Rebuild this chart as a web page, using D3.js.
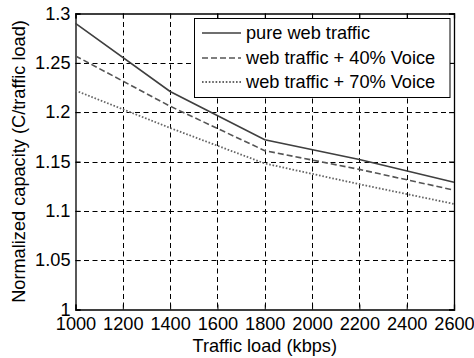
<!DOCTYPE html>
<html>
<head>
<meta charset="utf-8">
<script src="https://cdn.jsdelivr.net/npm/d3@7"></script>
<style>
  html, body { margin: 0; padding: 0; background: #fff; }
  text { font-family: "Liberation Sans", Arial, sans-serif; fill: #000; }
</style>
</head>
<body>
<svg id="chart" width="474" height="358"></svg>
<script>
// Traffic load in kbps
const loads = [1000, 1400, 1800, 2200, 2600];
// Normalized capacity (C / traffic load) for each traffic mix
const pureWeb = [1.290, 1.221, 1.172, 1.152, 1.129];
const web40Voice = [1.257, 1.206, 1.161, 1.142, 1.121];
const web70Voice = [1.222, 1.184, 1.148, 1.127, 1.107];
const seriesNames = ["pure web traffic", "web traffic + 40% Voice", "web traffic + 70% Voice"];
const xTicks = [1000, 1200, 1400, 1600, 1800, 2000, 2200, 2400, 2600];
const yTicks = [1, 1.05, 1.1, 1.15, 1.2, 1.25, 1.3];

const svg = d3.select("#chart");
const plotLeft = 75.5, plotRight = 454, plotTop = 13.5, plotBottom = 309.5;
const fontSize = "18.2px";

const x = d3.scaleLinear().domain([1000, 2600]).range([plotLeft, plotRight]);
const y = d3.scaleLinear().domain([1, 1.3]).range([plotBottom, plotTop]);

// Grid
const grid = svg.append("g");
grid.selectAll(".gx").data(xTicks.slice(1, -1)).enter().append("line")
  .attr("x1", d => Math.round(x(d)) + 0.5).attr("x2", d => Math.round(x(d)) + 0.5)
  .attr("y1", plotTop).attr("y2", plotBottom)
  .attr("stroke", "#000").attr("stroke-width", 1).attr("stroke-dasharray", "5,3.5");
grid.selectAll(".gy").data(yTicks.slice(1, -1)).enter().append("line")
  .attr("y1", d => Math.round(y(d)) + 0.5).attr("y2", d => Math.round(y(d)) + 0.5)
  .attr("x1", plotLeft).attr("x2", plotRight)
  .attr("stroke", "#000").attr("stroke-width", 1).attr("stroke-dasharray", "5,3.5");

// Axes (ticks pointing inward, mirrored on top and right)
const fmtY = d => d3.format("")(d);
const tickLen = 5;
const axB = svg.append("g").attr("transform", `translate(0,${plotBottom})`)
  .call(d3.axisBottom(x).tickValues(xTicks).tickSize(-tickLen).tickPadding(8).tickFormat(d3.format("d")));
const axT = svg.append("g").attr("transform", `translate(0,${plotTop})`)
  .call(d3.axisTop(x).tickValues(xTicks).tickSize(-tickLen).tickFormat(""));
const axL = svg.append("g").attr("transform", `translate(${plotLeft},0)`)
  .call(d3.axisLeft(y).tickValues(yTicks).tickSize(-tickLen).tickPadding(5).tickFormat(fmtY));
const axR = svg.append("g").attr("transform", `translate(${plotRight},0)`)
  .call(d3.axisRight(y).tickValues(yTicks).tickSize(-tickLen).tickFormat(""));
[axB, axT, axL, axR].forEach(a => {
  a.select(".domain").attr("stroke", "#000").attr("stroke-width", 1.3);
  a.selectAll(".tick line").attr("stroke", "#000");
  a.selectAll("text").style("font-size", fontSize).attr("fill", "#000")
    .style("font-family", "'Liberation Sans', Arial, sans-serif");
});

// Series
const series = [
  { name: seriesNames[0], values: pureWeb, color: "#3f3f3f", dash: null, width: 1.6 },
  { name: seriesNames[1], values: web40Voice, color: "#555", dash: "6,3", width: 1.6 },
  { name: seriesNames[2], values: web70Voice, color: "#666", dash: "1.6,1.8", width: 1.8 }
];
const line = d3.line().x((d, i) => x(loads[i])).y(d => y(d));
series.forEach(s => {
  svg.append("path").datum(s.values)
    .attr("d", line).attr("fill", "none")
    .attr("stroke", s.color).attr("stroke-width", s.width)
    .attr("stroke-dasharray", s.dash);
});

// Legend
const lg = svg.append("g");
lg.append("rect").attr("x", 194.5).attr("y", 18.5).attr("width", 255.5).attr("height", 79)
  .attr("fill", "#fff").attr("stroke", "#000").attr("stroke-width", 1);
const rowY = [33, 58, 82];
series.forEach((s, i) => {
  lg.append("line").attr("x1", 202).attr("x2", 241).attr("y1", rowY[i]).attr("y2", rowY[i])
    .attr("stroke", s.color).attr("stroke-width", s.width).attr("stroke-dasharray", s.dash);
  lg.append("text").attr("x", 246).attr("y", rowY[i]).attr("dy", "0.35em")
    .style("font-size", fontSize).text(s.name);
});

// Axis titles
svg.append("text").attr("x", (plotLeft + plotRight) / 2).attr("y", 351.5)
  .attr("text-anchor", "middle").style("font-size", fontSize).text("Traffic load (kbps)");
svg.append("text").attr("transform", `translate(25,${(plotTop + plotBottom) / 2}) rotate(-90)`)
  .attr("text-anchor", "middle").style("font-size", fontSize).text("Normalized capacity (C/traffic load)");
</script>
</body>
</html>
